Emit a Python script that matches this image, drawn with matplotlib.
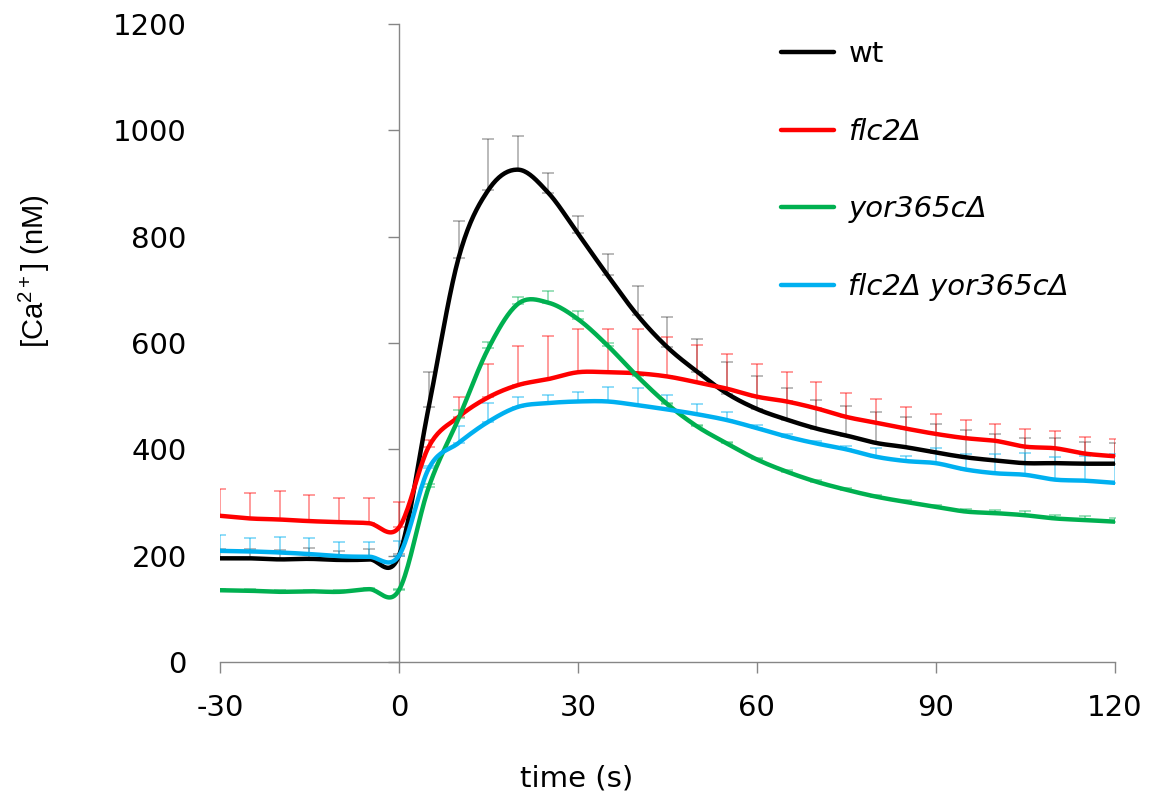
import numpy as np
import matplotlib
matplotlib.use('Agg')
import matplotlib.pyplot as plt

# time points (s), one reading every 5 s
time_s = list(range(-30, 121, 5))

wt = [195, 195, 193, 194, 192, 193, 200, 480, 760, 888, 926, 883, 806, 727, 652,
      592, 546, 505, 476, 456, 439, 426, 412, 404, 394, 385, 379, 374, 374, 373, 373]
wt_err = [17, 17, 18, 20, 17, 19, 3, 65, 69, 95, 64, 37, 33, 41, 55,
          56, 61, 59, 61, 60, 54, 55, 59, 56, 54, 51, 50, 47, 47, 41, 39]

flc2 = [275, 270, 268, 265, 263, 261, 253, 405, 461, 498, 521, 532, 545, 545, 543,
        537, 526, 514, 499, 490, 477, 461, 450, 439, 429, 421, 416, 405, 402, 392, 387]
flc2_err = [50, 48, 54, 49, 45, 47, 47, 12, 38, 62, 74, 82, 81, 81, 83,
            75, 70, 65, 61, 55, 49, 45, 44, 40, 37, 35, 31, 34, 32, 31, 32]

yor = [135, 134, 132, 133, 132, 137, 135, 329, 458, 590, 674, 676, 645, 595, 537,
       485, 443, 411, 381, 358, 339, 324, 311, 301, 292, 283, 280, 276, 270, 267, 264]
yor_err = [3, 3, 3, 3, 3, 3, 2, 6, 16, 12, 13, 21, 15, 5, 3,
           3, 3, 3, 3, 3, 3, 3, 3, 3, 3, 4, 6, 8, 7, 8, 6]

double = [209, 208, 206, 203, 199, 198, 200, 364, 412, 452, 480, 487, 490, 490, 483,
          475, 466, 455, 440, 424, 411, 400, 386, 378, 374, 362, 355, 352, 343, 341, 337]
double_err = [29, 25, 30, 30, 27, 28, 28, 5, 31, 35, 19, 16, 17, 28, 32,
              27, 20, 15, 6, 4, 4, 6, 16, 10, 28, 30, 37, 42, 43, 47, 54]

labels = ['wt', 'flc2Δ', 'yor365cΔ', 'flc2Δ yor365cΔ']
colors = ['#000000', '#FF0000', '#00B050', '#00B0F0']
bar_alpha = [0.35, 0.5, 0.5, 0.55]


def smooth(x, y, n=20):
    # Catmull-Rom curve through the points (like a spreadsheet "smoothed line")
    x = np.asarray(x, float)
    y = np.asarray(y, float)
    xp = np.r_[x[0], x, x[-1]]
    yp = np.r_[y[0], y, y[-1]]
    s = np.linspace(0, 1, n, endpoint=False)
    h00 = 2 * s**3 - 3 * s**2 + 1
    h10 = s**3 - 2 * s**2 + s
    h01 = -2 * s**3 + 3 * s**2
    h11 = s**3 - s**2
    xs, ys = [], []
    for i in range(len(x) - 1):
        for p, out in ((xp, xs), (yp, ys)):
            m0 = (p[i + 2] - p[i]) / 2
            m1 = (p[i + 3] - p[i + 1]) / 2
            out.append(h00 * p[i + 1] + h10 * m0 + h01 * p[i + 2] + h11 * m1)
    xs.append([x[-1]])
    ys.append([y[-1]])
    return np.concatenate(xs), np.concatenate(ys)


plt.rcParams['font.family'] = ['DejaVu Sans']
plt.rcParams['axes.unicode_minus'] = False
axis_grey = '#868686'

fig = plt.figure(figsize=(11.5, 8.08), dpi=100)
ax = fig.add_axes([220 / 1150, 1 - 662 / 808, 894.7 / 1150, 638 / 808])

series = [wt, flc2, yor, double]
errs = [wt_err, flc2_err, yor_err, double_err]

for vals, err, c, a in zip(series, errs, colors, bar_alpha):
    ax.errorbar(time_s, vals, yerr=[np.zeros(len(err)), err], fmt='none',
                ecolor=c, alpha=a, elinewidth=1.1, capsize=4.5, capthick=1.1, zorder=1)

handles = []
for vals, c, lab in zip(series, colors, labels):
    xs, ys = smooth(time_s, vals)
    h, = ax.plot(xs, ys, color=c, lw=3.2, label=lab, zorder=3,
                 solid_capstyle='round')
    handles.append(h)

ax.set_xlim(-30, 120)
ax.set_ylim(0, 1200)
ax.set_xticks(range(-30, 121, 30))
ax.set_yticks(range(0, 1201, 200))

for side in ['left', 'right', 'top']:
    ax.spines[side].set_visible(False)
ax.spines['bottom'].set_color(axis_grey)
ax.spines['bottom'].set_linewidth(1.0)
ax.tick_params(axis='x', direction='out', length=8, width=1, color=axis_grey,
               labelsize=21, pad=15)
ax.tick_params(axis='y', length=0, labelsize=21, pad=24)

# vertical axis line sits at time 0
sec = ax.secondary_yaxis(0.2)
sec.set_yticks(range(0, 1201, 200))
sec.spines['left'].set_color(axis_grey)
sec.spines['left'].set_linewidth(1.0)
sec.tick_params(axis='y', direction='out', length=8, width=1, color=axis_grey,
                labelleft=False, labelright=False)

ax.set_xlabel('time (s)', fontsize=21)
ax.xaxis.set_label_coords(0.399, -0.16)
ax.xaxis.label.set_va('top')
ax.set_ylabel(r'[Ca$^{\mathregular{2+}}$] (nM)', fontsize=21, family='Liberation Sans')
ax.yaxis.set_label_coords(-0.188, 0.613)

leg = ax.legend(handles=handles, loc='upper left', frameon=False, fontsize=21,
                bbox_to_anchor=(755 / 1150, 1 - 14 / 808),
                bbox_transform=fig.transFigure,
                handlelength=1.8, handletextpad=0.5, labelspacing=1.7)
for t in leg.get_texts()[1:]:
    t.set_style('italic')

fig.savefig('out.png', dpi=100)
